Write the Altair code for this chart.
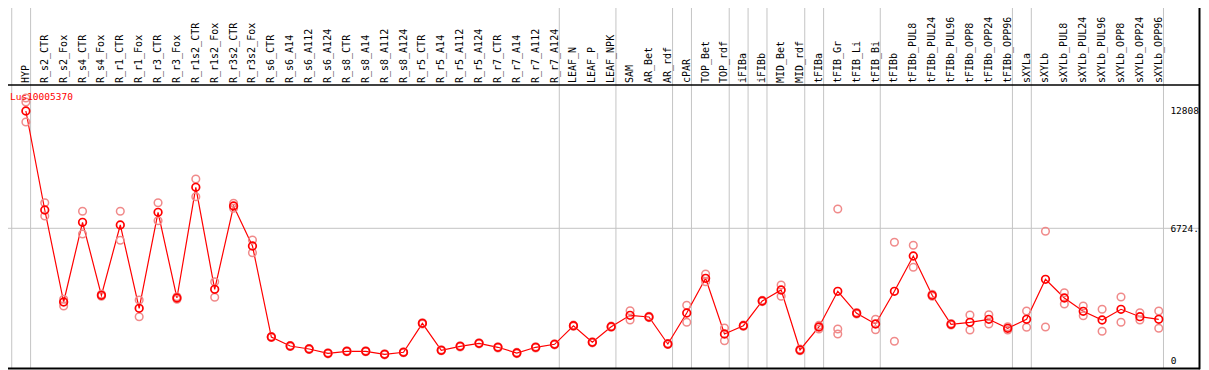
import altair as alt
import pandas as pd

categories = [
    "HYP", "R_s2_CTR", "R_s2_Fox", "R_s4_CTR", "R_s4_Fox", "R_r1_CTR", "R_r1_Fox",
    "R_r3_CTR", "R_r3_Fox", "R_r1s2_CTR", "R_r1s2_Fox", "R_r3s2_CTR", "R_r3s2_Fox",
    "R_s6_CTR", "R_s6_A14", "R_s6_A112", "R_s6_A124", "R_s8_CTR", "R_s8_A14",
    "R_s8_A112", "R_s8_A124", "R_r5_CTR", "R_r5_A14", "R_r5_A112", "R_r5_A124",
    "R_r7_CTR", "R_r7_A14", "R_r7_A112", "R_r7_A124", "LEAF_N", "LEAF_P", "LEAF_NPK",
    "SAM", "AR_Bet", "AR_rdf", "cPAR", "TOP_Bet", "TOP_rdf", "iFIBa", "iFIBb",
    "MID_Bet", "MID_rdf", "tFIBa", "tFIB_Gr", "tFIB_Li", "tFIB_Bi", "tFIBb",
    "tFIBb_PUL8", "tFIBb_PUL24", "tFIBb_PUL96", "tFIBb_OPP8", "tFIBb_OPP24",
    "tFIBb_OPP96", "sXYLa", "sXYLb", "sXYLb_PUL8", "sXYLb_PUL24", "sXYLb_PUL96",
    "sXYLb_OPP8", "sXYLb_OPP24", "sXYLb_OPP96",
]

mean_expr = [
    12494, 7624, 3099, 7019, 3428, 6887, 2789, 7511, 3296, 8741, 3724, 7821, 5854,
    1377, 935, 787, 575, 674, 674, 526, 625, 2051, 723, 920, 1067, 871, 590, 871,
    1018, 1933, 1117, 1884, 2445, 2361, 1033, 2558, 4265, 1525, 1933, 3148, 3689,
    738, 1869, 3625, 2543, 2017, 3625, 5362, 3428, 2002, 2100, 2248, 1805, 2248,
    4216, 3296, 2641, 2214, 2740, 2376, 2248,
]

rep_a = [
    13134, 7983, 3232, 7561, 3480, 7561, 3197, 7983, 3360, 9149, 4098, 7954, 6149,
    1400, 960, 810, 600, 700, 700, 550, 650, 2080, 750, 950, 1090, 900, 620, 900,
    1040, 1960, 1140, 1910, 2671, 2400, 1060, 2937, 4476, 1820, 1960, 3180, 3935,
    780, 1771, 7674, 2580, 2248, 6036, 5888, 3480, 2040, 2460, 2474, 1880, 2656,
    6577, 3556, 2902, 2740, 3345, 2573, 2656,
]

rep_b = [
    12937, 7329, 2902, 6444, 3380, 6134, 2376, 7098, 3232, 8279, 3330, 7708, 5524,
    1350, 910, 760, 550, 650, 650, 500, 600, 2020, 700, 890, 1040, 840, 560, 840,
    990, 1900, 1090, 1860, 2214, 2330, 1010, 2100, 4098, 1195, 1900, 3120, 3379,
    700, 1950, 1771, 2510, 1736, 1166, 4806, 3380, 1970, 1722, 2017, 1722, 1854,
    1869, 3001, 2425, 1658, 2100, 2214, 1805,
]

extra_rep_idx = [0, 43]
extra_rep_val = [11953, 1525]

group_last_idx = [-1, 0, 28, 31, 34, 35, 37, 38, 39, 41, 42, 45, 52, 53, 60]

gene_name = "Lus10005370"
ref_value = 6724
tick_values = [12808, 6724, 0]
tick_texts = ["12808", "6724.", "0"]

# ---------- layout (pixels) ----------
W, H = 1201, 370
S = 1192.0 / 1199.5                  # horizontal fit factor


def fx(px):
    return 8 + (px - 8) * S


X0, DX = 26.0, 19.0                  # first category position, spacing
Y0, KV = 365.0, 49.19                # zero line pixel, value per pixel
FONT = "DejaVu Sans Mono"

x_scale = alt.Scale(
    domain=[((0 - 8) / S + 8 - X0) / DX, ((W - 8) / S + 8 - X0) / DX],
    nice=False, zero=False,
)
y_scale = alt.Scale(domain=[(Y0 - H) * KV, Y0 * KV], nice=False, zero=False)

main_df = pd.DataFrame({"idx": list(range(len(categories))), "cat": categories, "v": mean_expr})

rep_rows = []
for i, (a, b) in enumerate(zip(rep_a, rep_b)):
    rep_rows.append({"idx": i, "v": a})
    rep_rows.append({"idx": i, "v": b})
for i, v in zip(extra_rep_idx, extra_rep_val):
    rep_rows.append({"idx": i, "v": v})
rep_df = pd.DataFrame(rep_rows)

grid_df = pd.DataFrame({"b": [g + 0.25 for g in group_last_idx]})
tick_df = pd.DataFrame({"v": tick_values, "lab": tick_texts})
one = pd.DataFrame({"a": [0]})


def X(f):
    return alt.X(f, type="quantitative", scale=x_scale, axis=None)


def Y(f):
    return alt.Y(f, type="quantitative", scale=y_scale, axis=None)


vgrid = alt.Chart(grid_df).mark_rule(color="#c4c4c4", strokeWidth=1).encode(
    x=X("b"), y=alt.value(0), y2=alt.value(368)
)

hgrid = alt.Chart(pd.DataFrame({"v": [ref_value]})).mark_rule(color="#c4c4c4", strokeWidth=1).encode(
    y=Y("v"), x=alt.value(0), x2=alt.value(fx(1207))
)

sep = alt.Chart(one).mark_rule(color="black", strokeWidth=1.5).encode(
    y=alt.value(85), x=alt.value(0), x2=alt.value(fx(1207.5))
)

right_border = alt.Chart(one).mark_rule(color="black", strokeWidth=2).encode(
    x=alt.value(fx(1207.5) - 0.5), y=alt.value(0), y2=alt.value(369.3)
)

bottom_border = alt.Chart(one).mark_rule(color="black", strokeWidth=2).encode(
    y=alt.value(368.5), x=alt.value(0), x2=alt.value(fx(1207.5))
)

cat_labels = alt.Chart(main_df).mark_text(
    angle=270, align="left", baseline="middle", font=FONT, fontSize=10, color="black"
).encode(x=X("idx"), y=alt.value(83), text="cat:N")

line = alt.Chart(main_df).mark_line(color="#ff0000", strokeWidth=1.2).encode(
    x=X("idx"), y=Y("v")
)

reps = alt.Chart(rep_df).mark_point(
    shape="circle", filled=False, color="#f08a8a", size=58, strokeWidth=1.5, opacity=1
).encode(x=X("idx"), y=Y("v"))

means = alt.Chart(main_df).mark_point(
    shape="circle", filled=False, color="#ff0000", size=58, strokeWidth=1.7, opacity=1
).encode(x=X("idx"), y=Y("v"))

tick_top = alt.Chart(tick_df).transform_filter("datum.v == 12808").mark_text(
    align="right", baseline="top", font=FONT, fontSize=9.5, color="black", dy=1
).encode(y=Y("v"), x=alt.value(fx(1206.5)), text="lab:N")
tick_mid = alt.Chart(tick_df).transform_filter("datum.v == 6724").mark_text(
    align="right", baseline="middle", font=FONT, fontSize=9.5, color="black", dy=1
).encode(y=Y("v"), x=alt.value(fx(1206.5)), text="lab:N")
tick_zero = alt.Chart(tick_df).transform_filter("datum.v == 0").mark_text(
    align="left", baseline="bottom", font=FONT, fontSize=9.5, color="black", dy=1
).encode(y=Y("v"), x=alt.value(fx(1178)), text="lab:N")

gene_label = alt.Chart(pd.DataFrame({"t": [gene_name]})).mark_text(
    align="left", baseline="middle", font=FONT, fontSize=9.5, color="#ff0000"
).encode(x=alt.value(fx(10)), y=alt.value(97), text="t:N")

chart = alt.layer(
    vgrid, hgrid, sep, right_border, bottom_border, cat_labels, line, reps, means,
    tick_top, tick_mid, tick_zero, gene_label,
).properties(
    width=W, height=H,
    autosize=alt.AutoSizeParams(type="none"),
    padding={"left": -8, "top": -8, "right": 0, "bottom": 0},
    background="white",
).configure_view(strokeWidth=0)

chart.save("out.html", embed_options={"renderer": "svg", "actions": False})
